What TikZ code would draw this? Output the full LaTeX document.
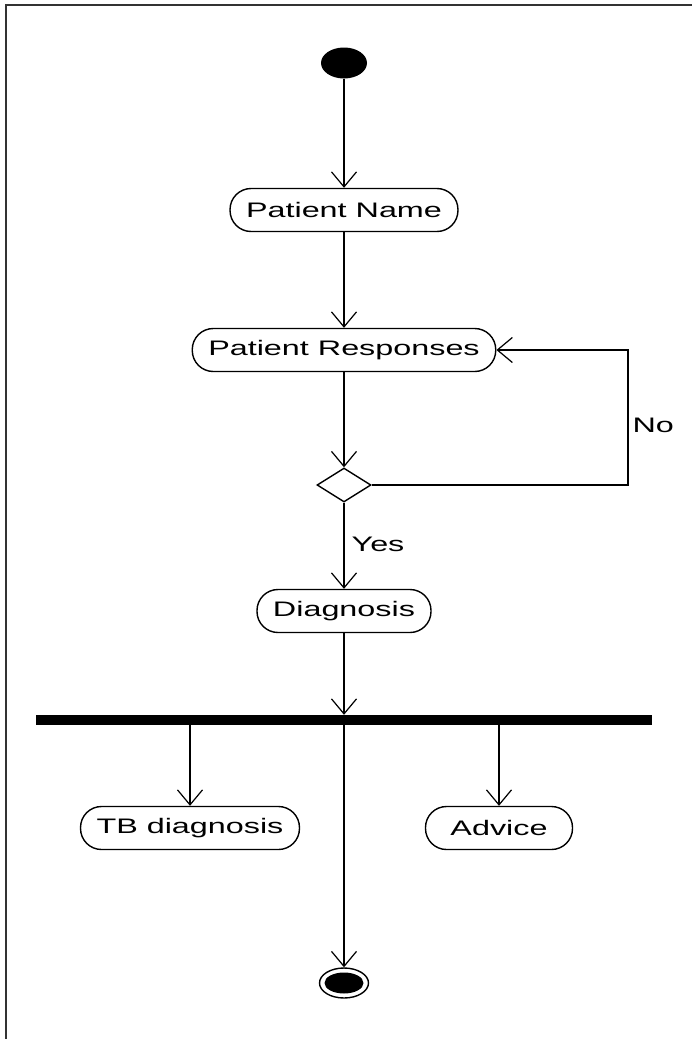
\documentclass[tikz,border=0pt]{standalone}
\usepackage{fontspec}
\setmainfont{Liberation Sans}[FakeStretch=1.54]
\usetikzlibrary{arrows.meta,shapes.geometric}

\tikzset{
  activity/.style={draw, rectangle, rounded corners=21pt, minimum height=43pt,
    inner xsep=16pt, line width=1.4pt, font=\fontsize{21}{25}\selectfont},
  flow/.style={line width=1.2pt, -{Straight Barb[length=15pt,width=25pt,line width=1.2pt]}},
  label/.style={font=\fontsize{21}{25}\selectfont}
}

\begin{document}
\begin{tikzpicture}[x=1pt, y=-1pt]
      \useasboundingbox (0,0) rectangle (692,1039);
      \draw[line width=2.5pt, black!80] (6,1039) -- (6,5) -- (692,5);

      \node[ellipse, fill, minimum width=46pt, minimum height=31pt, inner sep=0] (start) at (344, 63) {};
      \node[activity] (pname) at (344, 210) {Patient Name};
      \node[activity] (presp) at (344, 350) {Patient Responses};
      \node[diamond, draw, line width=1.4pt, minimum width=54pt, minimum height=34pt, inner sep=0] (dec) at (344, 485) {};
      \node[activity] (diag) at (344, 611) {Diagnosis};
      \node[rectangle, fill, minimum width=616pt, minimum height=10pt, inner sep=0] (bar) at (344, 720) {};
      \node[activity] (tb) at (190, 828) {TB diagnosis};
      \node[activity, minimum width=147pt] (advice) at (499, 828) {Advice};
      \node[ellipse, draw, line width=1.4pt, minimum width=49pt, minimum height=30pt, inner sep=0] (fin) at (344, 983) {};
      \node[ellipse, fill, minimum width=39pt, minimum height=21pt, inner sep=0] (fin_in) at (344, 983) {};

      \node[label, anchor=west] (no) at (629, 425) {No};
      \node[label] (yes) at (378, 544) {Yes};
      \coordinate (loop) at (628, 485);

      \draw[flow] (start) -- (pname);
      \draw[flow] (pname) -- (presp);
      \draw[flow] (presp) -- (dec);
      \draw[flow] (dec.east) -- (loop) |- (presp.east);
      \draw[flow] (dec) -- (diag);
      \draw[flow] (diag) -- (bar.north);

      \draw[flow] (bar.south -| tb.north) -- (tb.north);
      \draw[flow] (bar.south -| advice.north) -- (advice.north);
      \draw[flow] (bar.south) -- (fin.north);
    \end{tikzpicture}
\end{document}
